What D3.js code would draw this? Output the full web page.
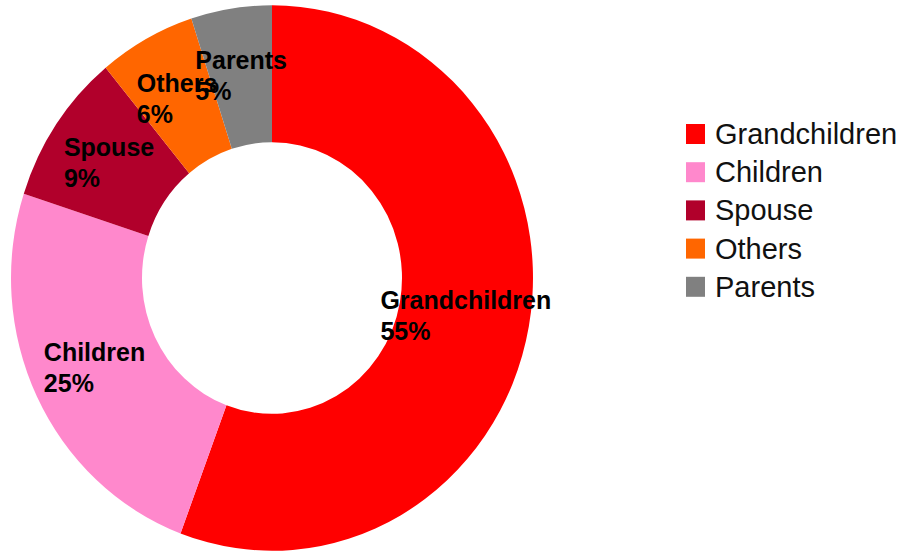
<!DOCTYPE html>
<html>
<head>
<meta charset="utf-8">
<script src="https://cdn.jsdelivr.net/npm/d3@7"></script>
<style>
  html, body { margin: 0; padding: 0; background: #fff; }
  svg { display: block; }
</style>
</head>
<body>
<script>
var width = 902;
var height = 554;

// data (slice sizes, labels as printed)
var categories = ['Grandchildren', 'Children', 'Spouse', 'Others', 'Parents'];
var shares = [55.7, 24.3, 9, 6, 5];
var pctLabels = ['55%', '25%', '9%', '6%', '5%'];
var colors = ['#ff0000', '#ff88cc', '#b1002b', '#ff6600', '#808080'];

var svg = d3.select('body')
    .append('svg')
    .attr('width', width)
    .attr('height', height);

svg.append('rect')
    .attr('width', width)
    .attr('height', height)
    .attr('fill', '#fff');

// donut is slightly taller than wide in the picture
var cx = 272, cy = 278, sy = 1.045;
var outerR = 261, innerR = 130;

var pie = d3.pie().sort(null).value(function(d) { return d; });
var arcs = pie(shares);

var arc = d3.arc().innerRadius(innerR).outerRadius(outerR);
var labelArc = d3.arc().innerRadius(197).outerRadius(197);

var donut = svg.append('g')
    .attr('transform', 'translate(' + cx + ',' + cy + ') scale(1,' + sy + ')');

donut.selectAll('path')
    .data(arcs)
    .enter()
    .append('path')
    .attr('d', arc)
    .attr('fill', function(d, i) { return colors[i]; });

// data labels: two left-aligned lines, block centred on the slice
var labels = svg.append('g')
    .attr('font-family', 'Liberation Sans, Arial, sans-serif')
    .attr('font-weight', 'bold')
    .attr('font-size', 25)
    .attr('fill', '#000');

arcs.forEach(function(d, i) {
    var c = labelArc.centroid(d);
    var x = cx + c[0], y = cy + c[1] * sy;
    var t = labels.append('text');
    var l1 = t.append('tspan').text(categories[i]);
    var l2 = t.append('tspan').text(pctLabels[i]);
    var w = Math.max(l1.node().getComputedTextLength(), l2.node().getComputedTextLength());
    var left = x - w / 2;
    l1.attr('x', left).attr('y', y - 6);
    l2.attr('x', left).attr('y', y + 25);
});

// legend
var legend = svg.append('g')
    .attr('transform', 'translate(686,144)');

var row = d3.scalePoint()
    .domain(categories)
    .range([0, 38.2 * (categories.length - 1)]);

var items = legend.selectAll('g')
    .data(categories)
    .enter()
    .append('g')
    .attr('transform', function(d) { return 'translate(0,' + row(d) + ')'; });

items.append('rect')
    .attr('x', 0)
    .attr('y', -20)
    .attr('width', 19)
    .attr('height', 20)
    .attr('fill', function(d, i) { return colors[i]; });

items.append('text')
    .attr('x', 29)
    .attr('y', 0)
    .attr('font-family', 'Liberation Sans, Arial, sans-serif')
    .attr('font-size', 29)
    .attr('fill', '#111')
    .text(function(d) { return d; });
</script>
</body>
</html>
